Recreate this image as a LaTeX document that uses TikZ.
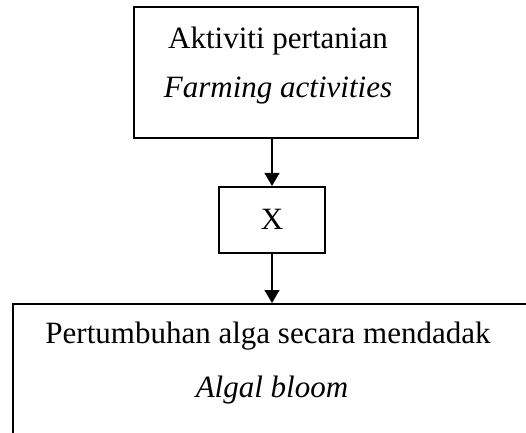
\documentclass[tikz,border=0pt]{standalone}
\usepackage{fontspec}
\setmainfont{Liberation Serif}
\usetikzlibrary{arrows.meta}
\begin{document}
\begin{tikzpicture}[x=1pt,y=-1pt,
  boxline/.style={draw=black,line width=2.2pt},
  txt/.style={inner sep=0pt,anchor=base,font=\fontsize{31}{36}\selectfont},
  conn/.style={line width=1.1pt,-{Triangle[width=15pt,length=13pt]}}]
\useasboundingbox (0,0) rectangle (526,432);
\begin{scope}
\clip (0,0) rectangle (526,432);
\node[boxline,minimum width=284pt,minimum height=131pt,inner sep=0pt] (top) at (276,72.5) {};
\node[boxline,minimum width=106pt,minimum height=66pt,inner sep=0pt] (xbox) at (272,220) {};
\node[boxline,minimum width=560pt,minimum height=170pt,inner sep=0pt,anchor=north west] (bot) at (12,303) {};
\end{scope}
\node[txt] (t1) at (278,48) {Aktiviti pertanian};
\node[txt] (t2) at (278,97) {\itshape Farming activities};
\node[txt] (tx) at (272,229) {X};
\node[txt] (b1) at (268,343) {Pertumbuhan alga secara mendadak};
\node[txt] (b2) at (272,397) {\itshape Algal bloom};
\draw[conn] (top.south -| xbox.north) -- (xbox.north);
\draw[conn] (xbox.south) -- (xbox.south |- bot.north);
\end{tikzpicture}
\end{document}
